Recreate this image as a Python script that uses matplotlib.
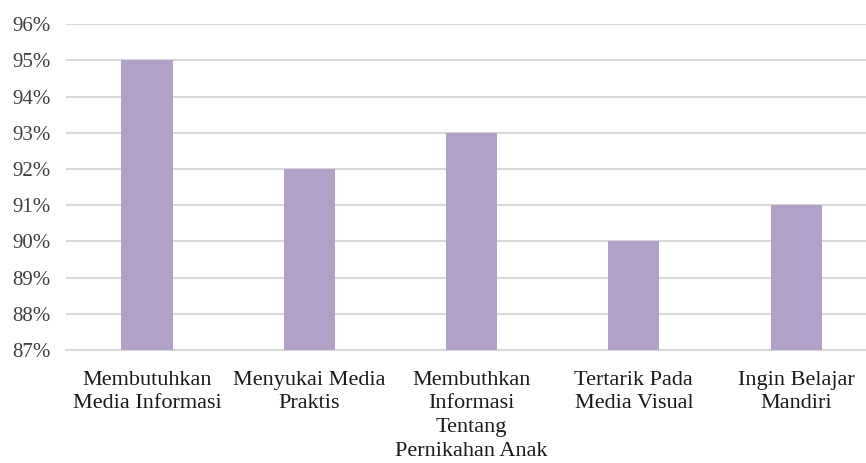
import matplotlib.pyplot as plt
from matplotlib.ticker import FuncFormatter

categories = ["Membutuhkan\nMedia Informasi", "Menyukai Media\nPraktis",
              "Membuthkan\nInformasi\nTentang\nPernikahan Anak",
              "Tertarik Pada\nMedia Visual", "Ingin Belajar\nMandiri"]
values = [95, 92, 93, 90, 91]

plt.rcParams['font.family'] = ['Liberation Serif', 'DejaVu Serif']

fig = plt.figure(figsize=(8.66, 4.63), dpi=100)
ax = fig.add_axes([0.076, 0.244, 0.937, 0.704])

x = range(len(categories))
ax.bar(x, [v - 87 for v in values], bottom=87, width=0.315, color='#B1A0C7', zorder=3)

ax.set_ylim(87, 96)
ax.set_xlim(-0.5, len(categories) - 0.5)
ax.set_yticks(range(87, 97))
ax.yaxis.set_major_formatter(FuncFormatter(lambda v, p: f"{v:.0f}%"))
ax.grid(axis='y', color='#d9d9d9', linewidth=1.5, zorder=0)
ax.set_xticks(list(x))
ax.set_xticklabels(categories, fontsize=16, color='#1a1a1a', linespacing=1.33)
ax.tick_params(axis='y', labelsize=15, labelcolor='#404040', length=0, pad=11)
ax.tick_params(axis='x', length=0, pad=15)
for s in ['left', 'right', 'top']:
    ax.spines[s].set_visible(False)
ax.spines['bottom'].set_color('#d9d9d9')
ax.spines['bottom'].set_linewidth(1.5)

fig.savefig('out.png', dpi=100)
